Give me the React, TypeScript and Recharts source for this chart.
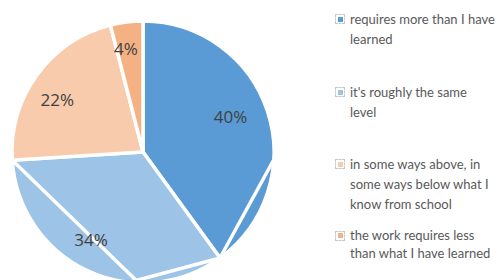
import React from "react";
import { PieChart, Pie, Cell, Legend } from "recharts";

// answers to: how does the work compare with what you learned at school?
const categories = [
  "requires more than I have\nlearned",
  "it's roughly the same\nlevel",
  "in some ways above, in\nsome ways below what I\nknow from school",
  "the work requires less\nthan what I have learned",
];
const shares = [40, 34, 22, 4];
const colors = ["#5B9BD5", "#9DC3E6", "#F8CBAD", "#F4B183"];

const data = categories.map((name, i) => ({ name, value: shares[i] }));

const RAD = Math.PI / 180;
const polar = (cx: number, cy: number, r: number, a: number) => ({
  x: cx + Math.cos(-a * RAD) * r,
  y: cy + Math.sin(-a * RAD) * r,
});

// the white cut lines that run across some of the slices in the original
const cuts: Record<number, Array<["start" | "end", number]>> = {
  0: [["end", 0]],
  1: [
    ["start", -100],
    ["end", -90],
  ],
};

// excel's "best fit" label spots: small turn (deg) and radius share per slice
const labelTurn = [4, -5.6, 4.7, 2.2];
const labelRadius = [0.72, 0.775, 0.765, 0.8];

function SliceLabel(props: any) {
  const { cx, cy, outerRadius, startAngle, endAngle, midAngle, index, value } = props;
  const lines = (cuts[index] || []).map(([from, to], k) => {
    const a = polar(cx, cy, outerRadius, from === "start" ? startAngle : endAngle);
    const b = polar(cx, cy, outerRadius + 4, to);
    return <line key={k} x1={a.x} y1={a.y} x2={b.x} y2={b.y} stroke="#fff" strokeWidth={3.5} />;
  });
  const p = polar(cx, cy, outerRadius * labelRadius[index], midAngle + labelTurn[index]);
  return (
    <g>
      {lines}
      <text
        x={p.x}
        y={p.y}
        textAnchor="middle"
        dominantBaseline="central"
        fill="#404040"
        fontSize={17}
        fontFamily="'Open Sans', sans-serif"
      >
        {value}%
      </text>
    </g>
  );
}

const legendTops = [9, 82, 154, 227];
const legendLineHeights = [20, 20, 20, 17.5];

function LegendBox() {
  return (
    <div style={{ position: "relative", width: 166, height: 280 }}>
      {data.map((d, i) => (
        <div
          key={d.name}
          style={{
            position: "absolute",
            left: 16,
            top: legendTops[i],
            fontFamily: "Lato, 'Open Sans', sans-serif",
            fontSize: 13,
            lineHeight: `${legendLineHeights[i]}px`,
            color: "#595959",
            whiteSpace: "pre",
          }}
        >
          <span
            style={{
              position: "absolute",
              left: -15,
              top: legendLineHeights[i] / 2 - 5,
              width: 8,
              height: 8,
              border: "1px dashed #c8c8c8",
              display: "flex",
              alignItems: "center",
              justifyContent: "center",
            }}
          >
            <span style={{ width: 5, height: 5, background: colors[i] }} />
          </span>
          {d.name}
        </div>
      ))}
    </div>
  );
}

export default function App() {
  return (
    <div style={{ position: "absolute", left: 0, top: 0, width: 500, height: 280, background: "#fff" }}>
      <PieChart width={500} height={280} margin={{ top: 0, right: 0, bottom: 0, left: 0 }}>
        <Pie
          data={data}
          dataKey="value"
          nameKey="name"
          cx={143}
          cy={152}
          outerRadius={131}
          startAngle={90}
          endAngle={-270}
          stroke="#fff"
          strokeWidth={3.5}
          label={SliceLabel}
          labelLine={false}
          isAnimationActive={false}
        >
          {data.map((d, i) => (
            <Cell key={d.name} fill={colors[i]} />
          ))}
        </Pie>
        <Legend
          layout="vertical"
          content={() => <LegendBox />}
          wrapperStyle={{ position: "absolute", left: 334, top: 0, width: 166, height: 280 }}
        />
      </PieChart>
    </div>
  );
}
